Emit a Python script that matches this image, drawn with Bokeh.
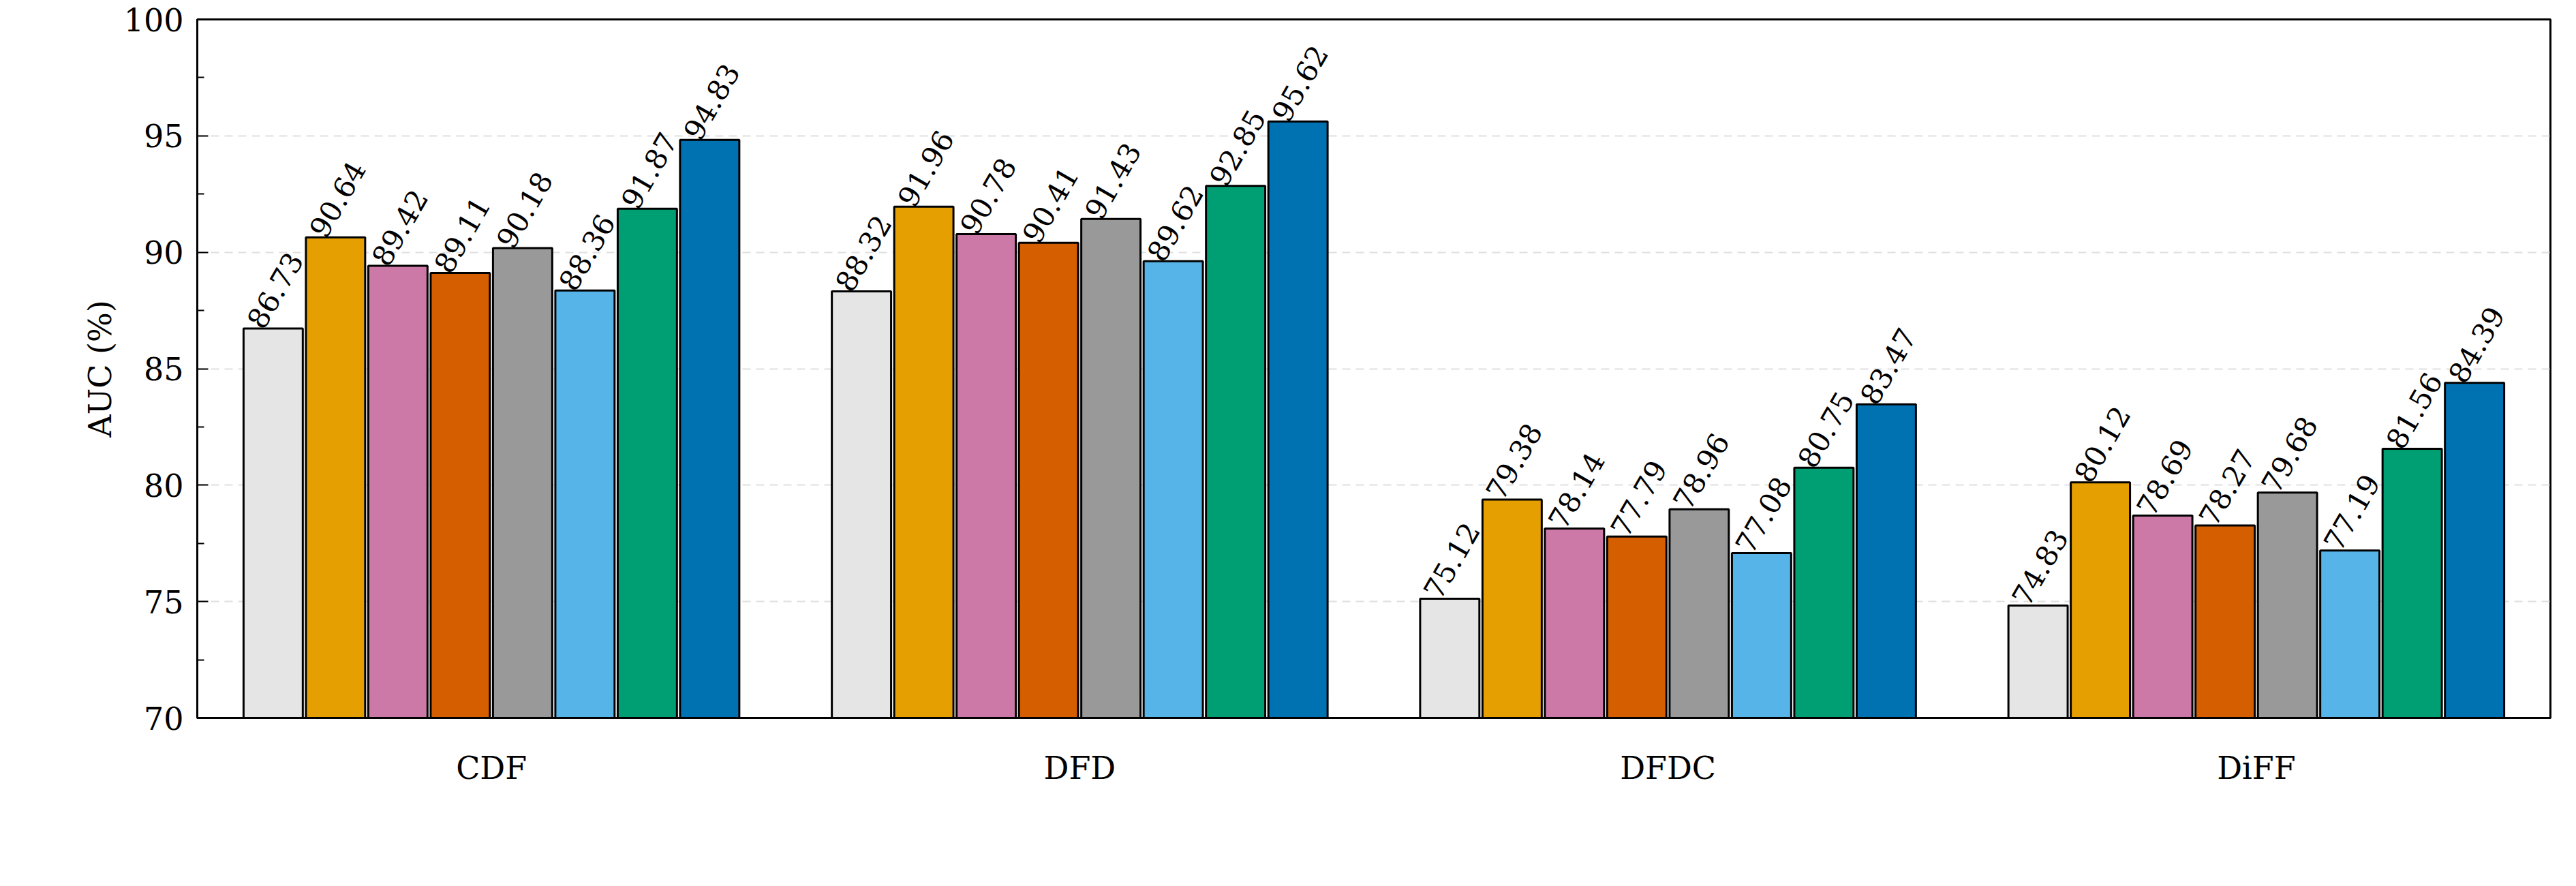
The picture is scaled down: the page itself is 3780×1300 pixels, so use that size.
from bokeh.plotting import figure
from bokeh.models import ColumnDataSource, FactorRange, Legend, LegendItem, FixedTicker
from bokeh.transform import dodge
from bokeh.embed import file_html
from bokeh.resources import INLINE
from bokeh.core.properties import value
import math

datasets = ["CDF", "DFD", "DFDC", "DiFF"]
methods = ["Baseline", "HPL-SF-P", "HPL-SF-PC", "HPL-SF-PD", "HPL-SF-M", "HPL-SF-S", "HPL-SF-T", "HPL-SF"]
colors = ["#e5e5e5", "#e69f00", "#cc79a7", "#d55e00", "#999999", "#56b4e9", "#009e73", "#0072b2"]
baseline = [86.73, 88.32, 75.12, 74.83]
hpl_sf_p = [90.64, 91.96, 79.38, 80.12]
hpl_sf_pc = [89.42, 90.78, 78.14, 78.69]
hpl_sf_pd = [89.11, 90.41, 77.79, 78.27]
hpl_sf_m = [90.18, 91.43, 78.96, 79.68]
hpl_sf_s = [88.36, 89.62, 77.08, 77.19]
hpl_sf_t = [91.87, 92.85, 80.75, 81.56]
hpl_sf = [94.83, 95.62, 83.47, 84.39]
series = [baseline, hpl_sf_p, hpl_sf_pc, hpl_sf_pd, hpl_sf_m, hpl_sf_s, hpl_sf_t, hpl_sf]

FONT = "DejaVu Serif"
p = figure(x_range=FactorRange(*datasets), y_range=(70, 100), frame_width=3453, frame_height=1025,
           output_backend="svg", toolbar_location=None,
           min_border_left=289, min_border_right=22, min_border_top=28, min_border_bottom=0)
p.outline_line_color = "black"
p.outline_line_width = 3
p.background_fill_color = "white"

bw = 0.106
items = []
for i, (m, vals, c) in enumerate(zip(methods, series, colors)):
    off = (i - 3.5) * bw
    src = ColumnDataSource(dict(x=datasets, y=vals, lab=[f"{v:.2f}" for v in vals]))
    r = p.vbar(x=dodge("x", off, range=p.x_range), top="y", bottom=70, width=bw * 0.95,
               source=src, fill_color=c, line_color="black", line_width=3)
    p.text(x=dodge("x", off - bw * 0.3, range=p.x_range), y="y", text="lab", source=src,
           angle=math.radians(60), text_align="left", text_baseline="middle",
           text_font=value(FONT), text_font_size="42px", text_color="black", y_offset=-4)
    items.append(LegendItem(label=m, renderers=[r]))

p.yaxis.ticker = FixedTicker(ticks=[70, 75, 80, 85, 90, 95, 100],
                             minor_ticks=[72.5, 77.5, 82.5, 87.5, 92.5, 97.5])
p.yaxis.axis_label = "AUC (%)"
for ax in (p.xaxis, p.yaxis):
    ax.axis_label_text_font = FONT
    ax.major_label_text_font = FONT
    ax.major_label_text_font_size = "46px"
    ax.axis_label_text_font_size = "46px"
    ax.axis_label_text_font_style = "normal"
    ax.axis_label_text_color = "black"
    ax.major_label_text_color = "black"
    ax.axis_line_color = "black"
    ax.axis_line_width = 3
p.yaxis.major_tick_in = 16
p.yaxis.major_tick_out = 0
p.yaxis.minor_tick_in = 10
p.yaxis.minor_tick_out = 0
p.yaxis.major_tick_line_width = 2
p.yaxis.minor_tick_line_width = 2
p.yaxis.major_label_standoff = 20
p.xaxis.major_tick_line_color = None
p.xaxis.minor_tick_line_color = None
p.xaxis.major_label_standoff = 40
p.xgrid.grid_line_color = None
p.ygrid.grid_line_color = "#e0e0e0"
p.ygrid.grid_line_dash = "12 8"
p.ygrid.grid_line_width = 2

leg = Legend(items=items, orientation="horizontal", location="center",
             label_text_font=FONT, label_text_font_size="46px", label_text_color="black",
             glyph_width=60, glyph_height=40, spacing=18, label_standoff=14,
             border_line_color=None, background_fill_alpha=0, margin=6, padding=6)
p.add_layout(leg, "below")

open("out.html", "w").write(file_html(p, INLINE))
